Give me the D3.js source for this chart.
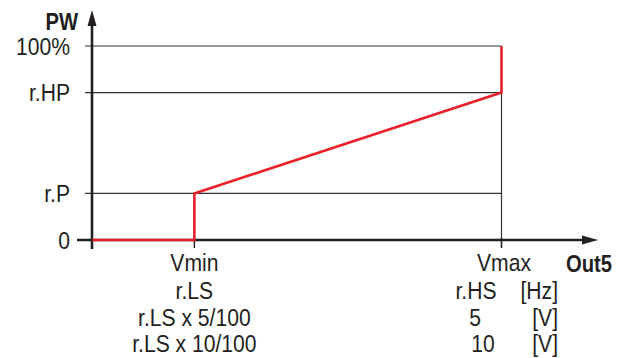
<!DOCTYPE html>
<html><head><meta charset="utf-8">
<script src="https://cdn.jsdelivr.net/npm/d3@7"></script>
<style>
html,body{margin:0;padding:0;background:#fff;}
text{font-family:"Liberation Sans",Arial,sans-serif;fill:#231f20;}
</style></head>
<body>
<svg id="c" width="627" height="358"></svg>
<script>
// Data
const yLevels = [0, 24, 76, 100];
const yLabels = ["0", "r.P", "r.HP", "100%"];
const xPoints = [2.5, 10];
const xLabelsLeft = ["Vmin", "r.LS", "r.LS x 5/100", "r.LS x 10/100"];
const xLabelsRight = ["Vmax", "r.HS", "5", "10"];
const unitLabels = ["", "[Hz]", "[V]", "[V]"];
const curveX = [0, 2.5, 2.5, 10, 10];
const curveY = [0, 0, 24, 76, 100];

const SX = 0.88; // condensed look
const svg = d3.select("#c");
const x = d3.scaleLinear().domain([0, 10]).range([92, 501.5]);
const y = d3.scaleLinear().domain([0, 100]).range([240, 46]);

function label(px, py, txt, anchor, size, bold) {
  svg.append("text")
    .attr("transform", `translate(${px},${py}) scale(${SX},1)`)
    .attr("text-anchor", anchor)
    .attr("font-size", size)
    .attr("font-weight", bold ? "bold" : "normal")
    .text(txt);
}

// grid lines (horizontal)
svg.selectAll("line.h").data(yLevels.filter(d => d > 0)).enter().append("line")
  .attr("x1", 85).attr("x2", x(10)).attr("y1", d => y(d)).attr("y2", d => y(d))
  .attr("stroke", "#333").attr("stroke-width", 1.2);
// vertical guide at Vmax
svg.append("line").attr("x1", x(10)).attr("x2", x(10)).attr("y1", y(76)).attr("y2", 248)
  .attr("stroke", "#333").attr("stroke-width", 1.2);
// ticks below x-axis
svg.selectAll("line.t").data(xPoints).enter().append("line")
  .attr("x1", d => x(d)).attr("x2", d => x(d)).attr("y1", 238).attr("y2", 248)
  .attr("stroke", "#231f20").attr("stroke-width", 1.4);

// axes
svg.append("line").attr("x1", 77).attr("x2", 584).attr("y1", y(0)).attr("y2", y(0))
  .attr("stroke", "#231f20").attr("stroke-width", 2.6);
svg.append("path").attr("d", "M582,235.5 L598,240 L582,244.5 Z").attr("fill", "#231f20");
svg.append("line").attr("x1", 92).attr("x2", 92).attr("y1", 249).attr("y2", 24)
  .attr("stroke", "#231f20").attr("stroke-width", 2.6);
svg.append("path").attr("d", "M87.5,26 L92,10 L96.5,26 Z").attr("fill", "#231f20");

// red curve
const line = d3.line().x(d => x(d[0])).y(d => y(d[1]));
svg.append("path").datum(curveX.map((v, i) => [v, curveY[i]]))
  .attr("d", line).attr("fill", "none").attr("stroke", "#e8202a").attr("stroke-width", 2.6)
  .attr("stroke-linejoin", "miter");

// y labels
yLevels.forEach((d, i) => label(70, y(d) + 8.5, yLabels[i], "end", 24, false));

// axis titles
label(78, 30, "PW", "end", 23, true);
label(612, 272, "Out5", "end", 23, true);

// x labels
const rows = [271, 299, 326, 352];
xLabelsLeft.forEach((d, i) => label(x(2.5), rows[i], d, "middle", 24, false));
const rightX = [504, 476, 475, 483];
xLabelsRight.forEach((d, i) => label(rightX[i], rows[i], d, "middle", 24, false));
unitLabels.forEach((d, i) => { if (d) label(558, rows[i], d, "end", 24, false); });
</script>
</body></html>
